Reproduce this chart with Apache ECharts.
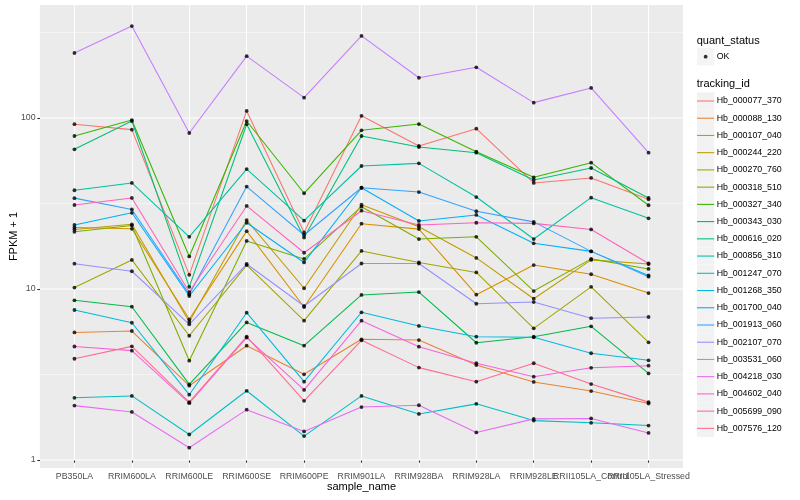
<!DOCTYPE html>
<html><head><meta charset="utf-8">
<script src="https://cdn.jsdelivr.net/npm/echarts@6/dist/echarts.min.js"></script>
<style>html,body{margin:0;padding:0;background:#fff}#c{width:800px;height:500px}</style>
</head><body><div id="c"></div>
<script>
const categories = ['PB350LA','RRIM600LA','RRIM600LE','RRIM600SE','RRIM600PE','RRIM901LA','RRIM928BA','RRIM928LA','RRIM928LE','RRII105LA_Control','RRII105LA_Stressed'];
const trackingIds = ['Hb_000077_370','Hb_000088_130','Hb_000107_040','Hb_000244_220','Hb_000270_760','Hb_000318_510','Hb_000327_340','Hb_000343_030','Hb_000616_020','Hb_000856_310','Hb_001247_070','Hb_001268_350','Hb_001700_040','Hb_001913_060','Hb_002107_070','Hb_003531_060','Hb_004218_030','Hb_004602_040','Hb_005699_090','Hb_007576_120'];
const quantStatus = ['OK'];

const hb_000077_370 = [92, 85.5, 12.1, 110, 21.4, 103, 68.6, 86.6, 41.7, 44.6, 33.5];
const hb_000088_130 = [5.57, 5.68, 2.72, 4.66, 3.17, 5.08, 5.03, 3.59, 2.86, 2.53, 2.14];
const hb_000107_040 = [22.9, 22.5, 6.65, 21.8, 7.85, 24.1, 22.4, 9.26, 13.8, 12.2, 9.47];
const hb_000244_220 = [22.3, 23.9, 6.44, 25.3, 10.1, 31.1, 23.1, 15.2, 8.77, 14.8, 14.0];
const hb_000270_760 = [10.2, 14.8, 5.33, 13.8, 6.53, 16.7, 14.3, 12.5, 5.89, 10.3, 4.88];
const hb_000318_510 = [21.6, 23.5, 3.81, 19.1, 15.0, 30.3, 19.6, 20.2, 9.73, 15.0, 13.1];
const hb_000327_340 = [78.5, 97.3, 15.5, 96, 36.3, 84.7, 92.2, 63.5, 45, 54.8, 30.9];
const hb_000343_030 = [8.59, 7.88, 2.77, 6.38, 4.66, 9.23, 9.6, 4.85, 5.26, 6.05, 3.21];
const hb_000616_020 = [65.6, 96, 10.3, 92, 20.0, 78.5, 67.6, 62.7, 43.4, 51, 34.1];
const hb_000856_310 = [37.8, 41.7, 20.2, 50.3, 25.1, 52.4, 54.3, 34.5, 19.6, 34.2, 25.9];
const hb_001247_070 = [2.31, 2.37, 1.41, 2.54, 1.38, 2.37, 1.86, 2.13, 1.70, 1.65, 1.59];
const hb_001268_350 = [7.54, 6.35, 2.41, 7.27, 2.87, 7.31, 6.08, 5.26, 5.22, 4.21, 3.83];
const hb_001700_040 = [23.7, 27.9, 9.1, 24.4, 14.3, 39.1, 25.0, 27.1, 18.5, 16.6, 12.0];
const hb_001913_060 = [34, 29.2, 9.3, 39.7, 20.7, 39.1, 36.9, 28.5, 24.7, 16.6, 11.8];
const hb_002107_070 = [14.06, 12.7, 6.22, 14.0, 7.96, 14.1, 14.1, 8.20, 8.39, 6.75, 6.86];
const hb_003531_060 = [240, 345, 81.7, 230, 131.5, 302, 172, 198, 123, 150, 62.7];
const hb_004218_030 = [2.08, 1.91, 1.18, 1.97, 1.47, 2.04, 2.09, 1.45, 1.74, 1.75, 1.44];
const hb_004602_040 = [4.61, 4.36, 2.15, 5.2, 2.57, 6.53, 4.60, 3.68, 3.07, 3.46, 3.56];
const hb_005699_090 = [31, 34.1, 9.6, 30.6, 16.3, 28.7, 23.7, 24.4, 24.2, 22.3, 14.1];
const hb_007576_120 = [3.91, 4.62, 2.18, 5.27, 2.22, 5.01, 3.47, 2.87, 3.68, 2.78, 2.18];

const yMajorTicks = [1, 10, 100];
const yMinorTicks = [3.1623, 31.623, 316.23];

const seriesValues = [hb_000077_370, hb_000088_130, hb_000107_040, hb_000244_220, hb_000270_760, hb_000318_510, hb_000327_340, hb_000343_030, hb_000616_020, hb_000856_310, hb_001247_070, hb_001268_350, hb_001700_040, hb_001913_060, hb_002107_070, hb_003531_060, hb_004218_030, hb_004602_040, hb_005699_090, hb_007576_120];

const palette = ['#F8766D','#EA8331','#D89000','#C09B00','#A3A500','#7CAE00','#39B600','#00BB4E','#00BF7D','#00C1A3','#00BFC4','#00BAE0','#00B0F6','#35A2FF','#9590FF','#C77CFF','#E76BF3','#FA62DB','#FF62BC','#FF6C90'];

const FONT = '"Liberation Sans", Arial, Helvetica, sans-serif';
const xTicks = categories.map((_, i) => i);
// an extra blank label slot near the right edge keeps the last two names both visible
const xLabelSlots = [...xTicks, categories.length - 0.5];
const X_MIN = -0.6, X_MAX = categories.length - 1 + 0.6;
const Y_MIN = 0.898, Y_MAX = 458;
const L_MIN = Math.log10(Y_MIN), L_MAX = Math.log10(Y_MAX);
const PANEL = { left: 39.9, top: 5, width: 643.1, height: 463 };

// horizontal panel grid lines (major + minor) across the full x range at the tick values
const gridLineSeries = [
  ...yMajorTicks.map(v => ({ v, w: 1.07 })),
  ...yMinorTicks.map(v => ({ v, w: 0.53 }))
].map((g, k) => ({
  name: '__grid' + k, type: 'line', xAxisIndex: 0, yAxisIndex: 0,
  data: [[X_MIN, g.v], [X_MAX, g.v]],
  symbol: 'none', showSymbol: false, clip: false,
  lineStyle: { color: '#FFFFFF', width: g.w },
  z: 1, silent: true
}));

const lineSeries = trackingIds.map((id, i) => ({
  name: id, type: 'line', xAxisIndex: 0, yAxisIndex: 0,
  data: seriesValues[i].map((v, j) => [j, v]),
  symbol: 'none', showSymbol: false,
  lineStyle: { color: palette[i], width: 1.07 },
  itemStyle: { color: palette[i] },
  z: 3, silent: true
}));
const okPoints = [];
seriesValues.forEach(vals => vals.forEach((v, j) => okPoints.push([j, v])));
const pointSeries = {
  name: quantStatus[0], type: 'scatter', xAxisIndex: 0, yAxisIndex: 0,
  data: okPoints, symbol: 'circle', symbolSize: 3.8,
  itemStyle: { color: '#000' }, z: 6, silent: true
};

const KEY = 17.28;
const legendText = { fontSize: 8.8, color: '#000', fontFamily: FONT, padding: [0, 0, 0, -2.6] };
const hidden = { fontSize: 1, color: 'rgba(0,0,0,0)' };
const titleText = { fontSize: 11, fontWeight: 'normal', color: '#000', fontFamily: FONT, lineHeight: 12 };

const option = {
  animation: false,
  backgroundColor: '#fff',
  graphic: { elements: [
    { type: 'rect', z: -10, silent: true,
      shape: { x: PANEL.left, y: PANEL.top, width: PANEL.width, height: PANEL.height },
      style: { fill: '#EBEBEB' } }
  ] },
  title: [
    { text: 'quant_status', left: 696.7, top: 34.7, padding: 0, textStyle: titleText },
    { text: 'tracking_id', left: 696.7, top: 78.3, padding: 0, textStyle: titleText }
  ],
  grid: { left: PANEL.left, top: PANEL.top, width: PANEL.width, height: PANEL.height, show: false, containLabel: false },
  legend: [
    { data: quantStatus, orient: 'vertical', left: 697, top: 56.7 - KEY / 2, padding: 0,
      itemWidth: KEY, itemHeight: KEY, itemGap: 0, icon: 'rect', selectedMode: false,
      itemStyle: { color: '#F2F2F2', borderWidth: 0 }, textStyle: legendText },
    { data: quantStatus, orient: 'vertical', left: 697 + KEY / 2 - 1.9, top: 56.7 - 1.9, padding: 0,
      itemWidth: 3.8, itemHeight: 3.8, icon: 'circle', selectedMode: false,
      itemStyle: { color: '#000', borderWidth: 0 }, textStyle: hidden },
    { data: trackingIds, orient: 'vertical', left: 697, top: 101 - KEY / 2, padding: 0,
      itemWidth: KEY, itemHeight: KEY, itemGap: -0.05, icon: 'rect', selectedMode: false,
      itemStyle: { color: '#F2F2F2', borderWidth: 0 }, textStyle: legendText },
    { data: trackingIds.map((n, i) => ({ name: n, itemStyle: { color: palette[i] } })),
      orient: 'vertical', left: 697, top: 101 - KEY / 2, padding: 0,
      itemWidth: KEY, itemHeight: KEY, itemGap: -0.05,
      icon: 'path://M0,0M17.28,17.28M0,8.1h17.28v1.07h-17.28z', selectedMode: false,
      itemStyle: { borderWidth: 0 }, textStyle: hidden }
  ],
  xAxis: {
    type: 'value', min: X_MIN, max: X_MAX, z: 1,
    axisLine: { show: false },
    axisTick: { show: true, length: 2.75, customValues: xTicks, lineStyle: { color: '#333', width: 1.07 } },
    axisLabel: { customValues: xLabelSlots, formatter: v => (Number.isInteger(v) ? categories[v] : ''), margin: 4.5,
      color: '#4D4D4D', fontSize: 8.8, fontFamily: FONT, hideOverlap: false, showMinLabel: true, showMaxLabel: false },
    splitLine: { show: true, lineStyle: { color: '#fff', width: 1.07 } },
    name: 'sample_name', nameLocation: 'middle', nameGap: 13, nameMoveOverlap: false,
    nameTextStyle: { fontSize: 11, color: '#000', fontFamily: FONT }
  },
  yAxis: [
    { type: 'log', logBase: 10, min: Y_MIN, max: Y_MAX, z: 1,
      axisLine: { show: false },
      axisTick: { show: false },
      axisLabel: { customValues: yMajorTicks, margin: 4.4, color: '#4D4D4D', fontSize: 8.8, fontFamily: FONT },
      splitLine: { show: false },
      minorTick: { show: false }, minorSplitLine: { show: false },
      name: 'FPKM + 1', nameLocation: 'middle', nameGap: 21, nameRotate: 90, nameMoveOverlap: false,
      nameTextStyle: { fontSize: 11, color: '#000', fontFamily: FONT } },
    { type: 'value', min: L_MIN, max: L_MAX, position: 'left', z: 1,
      axisLine: { show: false },
      axisTick: { show: true, length: 2.75, customValues: yMajorTicks.map(v => Math.log10(v)), lineStyle: { color: '#333', width: 1.07 } },
      axisLabel: { show: false },
      splitLine: { show: false } }
  ],
  series: [...gridLineSeries, ...lineSeries, pointSeries]
};
const chart = echarts.init(document.getElementById('c'));
chart.setOption(option);
</script></body></html>
